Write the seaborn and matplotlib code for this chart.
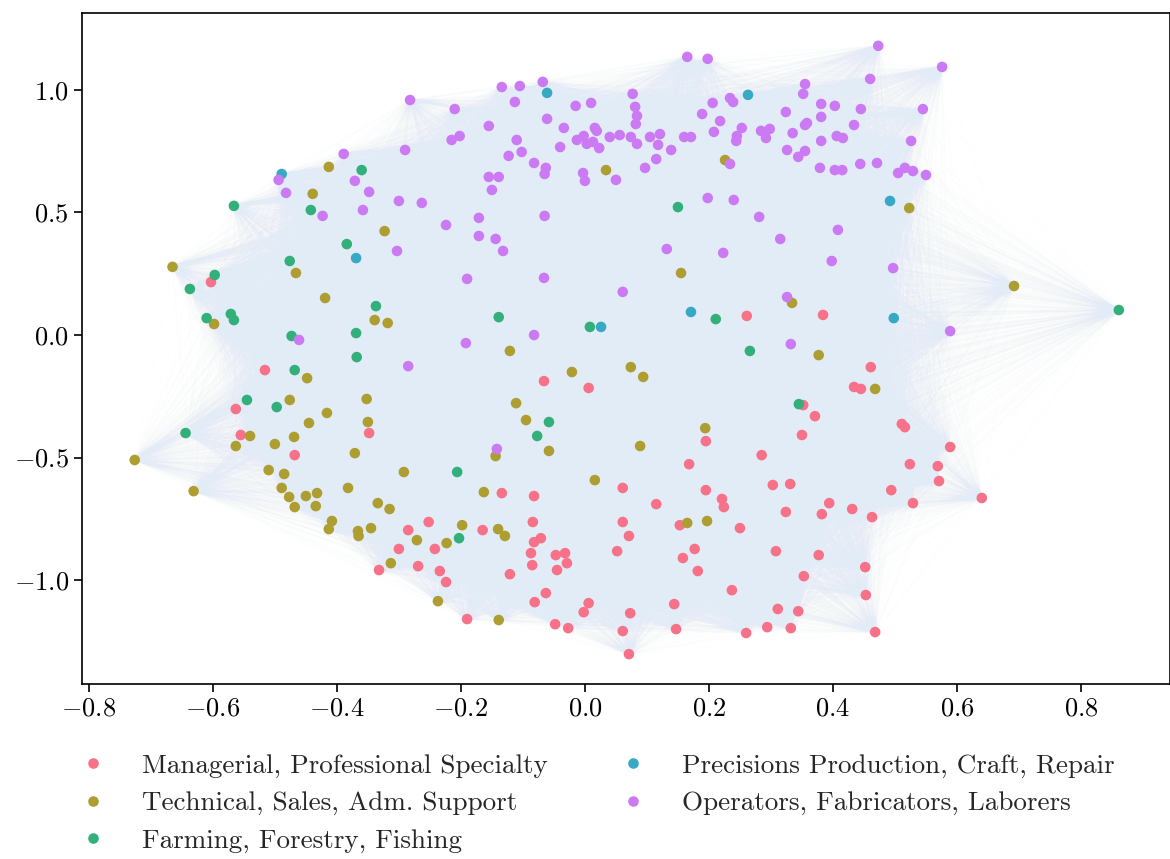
import numpy as np
import pandas as pd
import matplotlib
matplotlib.use("Agg")
import matplotlib.pyplot as plt
import seaborn as sns
from matplotlib.collections import LineCollection

categories = [
    "Managerial, Professional Specialty",
    "Technical, Sales, Adm. Support",
    "Farming, Forestry, Fishing",
    "Precisions Production, Craft, Repair",
    "Operators, Fabricators, Laborers",
]

managerial = [
    (-0.603, 0.216), (-0.516, -0.143), (-0.563, -0.302), (-0.555, -0.408), (-0.468, -0.490),
    (-0.348, -0.400), (-0.066, -0.188), (0.006, -0.216), (0.261, 0.078), (0.384, 0.082),
    (0.461, -0.131), (0.434, -0.212), (0.445, -0.220), (0.352, -0.286), (0.371, -0.331),
    (0.195, -0.433), (0.350, -0.408), (0.285, -0.490), (0.168, -0.527), (0.511, -0.363),
    (0.516, -0.376), (0.589, -0.457), (0.524, -0.527), (0.569, -0.535), (-0.134, -0.645),
    (-0.082, -0.657), (0.061, -0.624), (-0.285, -0.796), (-0.252, -0.763), (-0.165, -0.796),
    (-0.084, -0.763), (-0.082, -0.845), (-0.071, -0.829), (0.061, -0.763), (-0.300, -0.873),
    (-0.242, -0.873), (-0.332, -0.959), (-0.269, -0.943), (-0.234, -0.963), (-0.224, -1.008),
    (-0.087, -0.890), (-0.085, -0.939), (-0.047, -0.898), (-0.032, -0.890), (-0.029, -0.931),
    (-0.045, -0.959), (0.052, -0.882), (-0.121, -0.976), (-0.063, -1.053), (-0.081, -1.090),
    (0.006, -1.094), (-0.002, -1.131), (-0.190, -1.159), (-0.048, -1.180), (-0.027, -1.196),
    (0.061, -1.208), (0.195, -0.633), (0.303, -0.612), (0.331, -0.608), (0.494, -0.633),
    (0.115, -0.690), (0.221, -0.669), (0.224, -0.702), (0.324, -0.722), (0.394, -0.686),
    (0.382, -0.731), (0.431, -0.710), (0.463, -0.743), (0.153, -0.776), (0.250, -0.788),
    (0.071, -0.820), (0.177, -0.873), (0.158, -0.910), (0.182, -0.963), (0.308, -0.882),
    (0.377, -0.898), (0.452, -0.947), (0.353, -0.984), (0.237, -1.041), (0.453, -1.061),
    (0.144, -1.098), (0.073, -1.135), (0.311, -1.118), (0.344, -1.127), (0.147, -1.200),
    (0.260, -1.216), (0.294, -1.192), (0.332, -1.196), (0.468, -1.212), (0.071, -1.302),
    (0.571, -0.596), (0.529, -0.686), (0.640, -0.665),
]

technical = [
    (-0.413, 0.686), (-0.439, 0.576), (0.034, 0.673), (-0.323, 0.424), (0.226, 0.714),
    (0.523, 0.518), (-0.665, 0.278), (-0.466, 0.253), (-0.419, 0.151), (-0.598, 0.045),
    (-0.448, -0.176), (-0.476, -0.265), (-0.416, -0.318), (-0.445, -0.359), (-0.540, -0.412),
    (-0.563, -0.453), (-0.500, -0.445), (-0.469, -0.416), (-0.371, -0.482), (-0.726, -0.510),
    (-0.339, 0.061), (-0.318, 0.049), (-0.121, -0.065), (-0.021, -0.151), (-0.352, -0.261),
    (-0.111, -0.278), (-0.095, -0.347), (-0.350, -0.355), (-0.144, -0.494), (-0.058, -0.473),
    (0.155, 0.253), (0.334, 0.131), (0.377, -0.082), (0.074, -0.131), (0.094, -0.171),
    (0.468, -0.220), (0.194, -0.380), (0.089, -0.453), (0.692, 0.200), (-0.631, -0.637),
    (-0.510, -0.551), (-0.485, -0.567), (-0.489, -0.624), (-0.477, -0.661), (-0.468, -0.702),
    (-0.450, -0.657), (-0.432, -0.645), (-0.434, -0.698), (-0.408, -0.759), (-0.413, -0.792),
    (-0.382, -0.624), (-0.292, -0.559), (-0.163, -0.641), (0.016, -0.592), (-0.334, -0.686),
    (-0.315, -0.710), (-0.366, -0.800), (-0.365, -0.820), (-0.345, -0.788), (-0.271, -0.837),
    (-0.198, -0.776), (-0.223, -0.849), (-0.140, -0.792), (-0.129, -0.820), (-0.313, -0.931),
    (-0.237, -1.086), (-0.139, -1.163), (0.165, -0.767), (0.197, -0.759),
]

farming = [
    (-0.566, 0.527), (-0.442, 0.510), (-0.360, 0.673), (0.150, 0.522), (-0.384, 0.371),
    (-0.597, 0.245), (-0.637, 0.188), (-0.476, 0.302), (-0.610, 0.069), (-0.571, 0.086),
    (-0.566, 0.061), (-0.473, -0.004), (-0.369, 0.008), (-0.368, -0.090), (-0.468, -0.143),
    (-0.545, -0.265), (-0.497, -0.294), (-0.644, -0.400), (-0.337, 0.118), (-0.139, 0.073),
    (0.008, 0.033), (-0.058, -0.355), (-0.077, -0.412), (0.211, 0.065), (0.266, -0.065),
    (0.345, -0.282), (0.861, 0.102), (-0.206, -0.559), (-0.203, -0.829),
]

precision = [
    (-0.489, 0.657), (-0.061, 0.988), (0.263, 0.980), (0.492, 0.547), (-0.369, 0.314),
    (0.026, 0.033), (0.171, 0.094), (0.498, 0.069),
]

operators = [
    (-0.389, 0.739), (-0.494, 0.633), (-0.371, 0.629), (-0.482, 0.580), (-0.423, 0.486),
    (-0.282, 0.959), (-0.210, 0.922), (-0.134, 1.012), (-0.105, 1.016), (-0.068, 1.033),
    (-0.113, 0.951), (-0.061, 0.882), (-0.015, 0.935), (0.010, 0.947), (-0.155, 0.853),
    (-0.034, 0.845), (0.016, 0.845), (0.019, 0.833), (-0.215, 0.796), (-0.202, 0.812),
    (-0.110, 0.796), (-0.013, 0.796), (-0.002, 0.812), (0.003, 0.780), (0.013, 0.788),
    (0.023, 0.763), (0.040, 0.808), (0.056, 0.816), (-0.290, 0.755), (-0.040, 0.767),
    (-0.123, 0.731), (-0.102, 0.747), (-0.082, 0.702), (-0.063, 0.682), (-0.065, 0.657),
    (-0.003, 0.661), (0.000, 0.629), (0.050, 0.633), (-0.348, 0.584), (-0.358, 0.510),
    (-0.300, 0.547), (-0.263, 0.539), (-0.155, 0.645), (-0.139, 0.645), (-0.150, 0.592),
    (-0.224, 0.449), (-0.171, 0.478), (-0.065, 0.486), (-0.171, 0.404), (-0.144, 0.392),
    (0.165, 1.135), (0.198, 1.127), (0.473, 1.180), (0.460, 1.045), (0.077, 0.984),
    (0.081, 0.931), (0.084, 0.894), (0.082, 0.861), (0.074, 0.808), (0.084, 0.780),
    (0.105, 0.808), (0.121, 0.820), (0.118, 0.776), (0.139, 0.755), (0.115, 0.718),
    (0.097, 0.682), (0.206, 0.947), (0.234, 0.967), (0.239, 0.951), (0.189, 0.902),
    (0.218, 0.873), (0.208, 0.829), (0.160, 0.808), (0.171, 0.808), (0.253, 0.845),
    (0.245, 0.812), (0.244, 0.792), (0.284, 0.833), (0.298, 0.841), (0.292, 0.804),
    (0.355, 1.024), (0.352, 0.984), (0.324, 0.910), (0.381, 0.943), (0.403, 0.935),
    (0.445, 0.922), (0.381, 0.890), (0.358, 0.865), (0.355, 0.857), (0.434, 0.857),
    (0.335, 0.824), (0.406, 0.812), (0.416, 0.804), (0.381, 0.792), (0.326, 0.755),
    (0.355, 0.751), (0.344, 0.727), (0.234, 0.698), (0.379, 0.682), (0.403, 0.673),
    (0.415, 0.673), (0.444, 0.698), (0.471, 0.702), (0.198, 0.559), (0.240, 0.551),
    (0.281, 0.482), (0.408, 0.429), (0.315, 0.392), (0.576, 1.094), (0.545, 0.922),
    (0.526, 0.792), (0.516, 0.682), (0.505, 0.661), (0.529, 0.669), (0.550, 0.653),
    (-0.461, -0.020), (-0.132, 0.343), (-0.303, 0.343), (-0.190, 0.229), (-0.066, 0.233),
    (0.061, 0.176), (-0.192, -0.033), (-0.082, 0.000), (-0.285, -0.127), (-0.142, -0.465),
    (0.132, 0.351), (0.223, 0.335), (0.398, 0.302), (0.497, 0.273), (0.326, 0.155),
    (0.332, -0.037), (0.589, 0.016),
]

xticks = [-0.8, -0.6, -0.4, -0.2, 0.0, 0.2, 0.4, 0.6, 0.8]
yticks = [-1.0, -0.5, 0.0, 0.5, 1.0]

groups = [managerial, technical, farming, precision, operators]
frames = []
for name, pts in zip(categories, groups):
    arr = np.array(pts)
    frames.append(pd.DataFrame({"x": arr[:, 0], "y": arr[:, 1], "cat": name}))
df = pd.concat(frames, ignore_index=True)

sns.set_theme(style="ticks")
plt.rcParams["font.family"] = ["cmr10", "DejaVu Serif"]
plt.rcParams["mathtext.fontset"] = "cm"
plt.rcParams["axes.formatter.use_mathtext"] = True
plt.rcParams["axes.unicode_minus"] = True

W, H = 1170, 859
fig = plt.figure(figsize=(W / 100, H / 100), dpi=100)
ax = fig.add_axes([82 / W, (H - 684) / H, (1170 - 82) / W, (684 - 13) / H])

# all-pairs edges
P = df[["x", "y"]].to_numpy()
i, j = np.triu_indices(len(P), 1)
segs = np.stack([P[i], P[j]], axis=1)
lc = LineCollection(segs, colors="#e2ecf7", linewidths=0.6, alpha=0.07, zorder=1)
ax.add_collection(lc)

sns.scatterplot(data=df, x="x", y="y", hue="cat", hue_order=categories,
                palette="husl", s=58, linewidth=0, ax=ax, zorder=3)

ax.set_xlim(-0.811, 0.9435)
ax.set_ylim(-1.424, 1.314)
ax.set_xticks(xticks)
ax.set_yticks(yticks)
ax.set_xlabel("")
ax.set_ylabel("")
ax.tick_params(labelsize=19, length=6, width=1.2, colors="black")
for sp in ax.spines.values():
    sp.set_linewidth(1.2)
    sp.set_color("black")

sns.move_legend(ax, "upper left", bbox_to_anchor=(42 / W, 1 - 729 / H),
                bbox_transform=fig.transFigure, ncol=2, frameon=False,
                title=None, fontsize=19.5, markerscale=1.0,
                handletextpad=0.8, columnspacing=2.15, labelspacing=0.5)

fig.savefig("out.png", dpi=100)
